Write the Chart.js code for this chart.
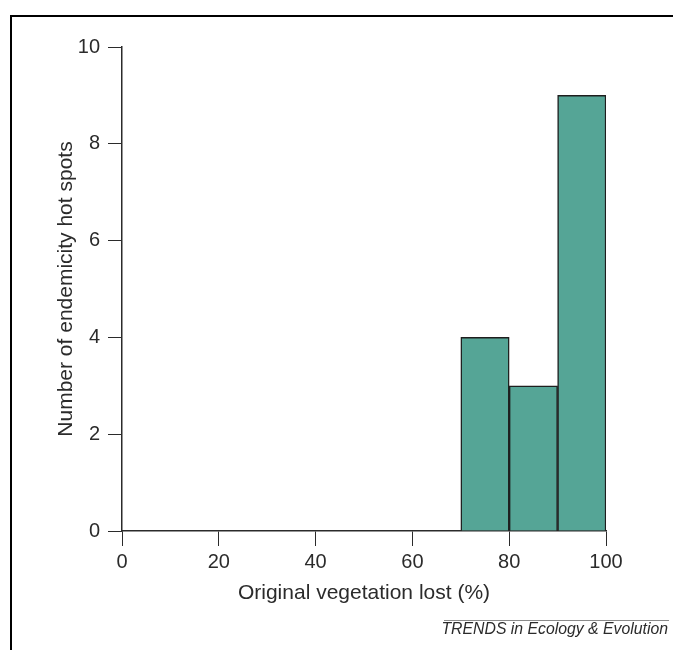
<!DOCTYPE html>
<html>
<head>
<meta charset="utf-8">
<script src="https://cdn.jsdelivr.net/npm/chart.js@4"></script>
<style>
  html, body { margin: 0; padding: 0; background: #fff; }
  #wrap { position: relative; width: 673px; height: 650px; overflow: hidden; }
  #chart { position: absolute; left: 0; top: 0; }
  #frame { position: absolute; left: 10px; top: 15px; width: 680px; height: 660px;
           border-top: 2px solid #000; border-left: 2px solid #000; }
  #footline { position: absolute; left: 444px; top: 620px; width: 225px; height: 0;
              border-top: 1.5px solid #8a8a8a; }
  #footer { position: absolute; right: 5px; top: 621px; font: italic 15.8px/16px "Liberation Sans", Arial, sans-serif;
            color: #2b2b2b; white-space: nowrap; }
</style>
</head>
<body>
<div id="wrap">
  <canvas id="chart" width="673" height="650"></canvas>
  <div id="frame"></div>
  <div id="footline"></div>
  <div id="footer">TRENDS in Ecology &amp; Evolution</div>
</div>
<script>
// Histogram bins (centre of each 10% bin) and counts
const binCenters = [5, 15, 25, 35, 45, 55, 65, 75, 85, 95];
const hotSpotCounts = [0, 0, 0, 0, 0, 0, 0, 4, 3, 9];
const xTickValues = [0, 20, 40, 60, 80, 100];
const yTickValues = [0, 2, 4, 6, 8, 10];
const xTitle = 'Original vegetation lost (%)';
const yTitle = 'Number of endemicity hot spots';

const FONT = '"Liberation Sans", Arial, sans-serif';
const INK = '#2b2b2b';

const points = binCenters.map((x, i) => ({ x: x, y: hotSpotCounts[i] }));

new Chart(document.getElementById('chart'), {
  type: 'bar',
  data: {
    datasets: [{
      data: points,
      backgroundColor: '#55a596',
      borderColor: '#1e1e1e',
      borderWidth: 1.5,
      borderSkipped: 'start',
      barPercentage: 1,
      categoryPercentage: 1
    }]
  },
  options: {
    responsive: false,
    animation: false,
    layout: { padding: { left: 0, top: 47, right: 67, bottom: 0 } },
    plugins: { legend: { display: false }, tooltip: { enabled: false } },
    scales: {
      x: {
        type: 'linear',
        min: 0, max: 100,
        offset: false,
        afterBuildTicks: s => { s.ticks = xTickValues.map(v => ({ value: v })); },
        afterFit: s => { s.height = 119; },
        grid: { drawOnChartArea: false, drawTicks: true, tickLength: 15, color: INK, lineWidth: 1, offset: false },
        border: { display: true, color: INK, width: 1.5 },
        ticks: { color: INK, font: { family: FONT, size: 20 }, padding: 4, maxRotation: 0 },
        title: { display: true, text: xTitle, color: INK, font: { family: FONT, size: 21, lineHeight: 1 },
                 padding: { top: 0, bottom: 46 } }
      },
      y: {
        min: 0, max: 10,
        afterBuildTicks: s => { s.ticks = yTickValues.map(v => ({ value: v })); },
        afterFit: s => { s.width = 122; },
        grid: { drawOnChartArea: false, drawTicks: true, tickLength: 14, color: INK, lineWidth: 1 },
        border: { display: true, color: INK, width: 1.5 },
        ticks: { color: INK, font: { family: FONT, size: 20 }, padding: 8 },
        title: { display: true, text: yTitle, color: INK, font: { family: FONT, size: 21, lineHeight: 1 },
                 padding: { top: 56, bottom: 0 } }
      }
    }
  }
});
</script>
</body>
</html>
